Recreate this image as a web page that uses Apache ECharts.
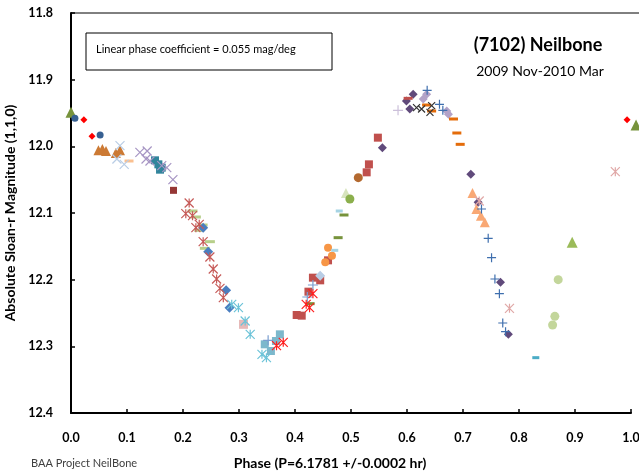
<!DOCTYPE html>
<html>
<head>
<meta charset="utf-8">
<script src="https://cdn.jsdelivr.net/npm/echarts@6/dist/echarts.min.js"></script>
<style>
  html, body { margin: 0; padding: 0; background: #fff; }
  #chart { width: 639px; height: 472px; }
</style>
</head>
<body>
<div id="chart"></div>
<script>
// [phase, magnitude], one array per marker style
var oliveTri = [[0.0, 11.949], [1.009, 11.968]];
var navyCircle = [[0.007, 11.958], [0.052, 11.983]];
var redDiamond = [[0.023, 11.960], [0.0375, 11.985], [0.993, 11.960]];
var tanTri = [[0.049, 12.006], [0.056, 12.004], [0.0625, 12.007], [0.080, 12.010], [0.0875, 12.006]];
var paleBlueX = [[0.0875, 11.999], [0.082, 12.019], [0.095, 12.027]];
var peachDash = [[0.1036, 12.022]];
var lavenderX = [[0.123, 12.009], [0.136, 12.007], [0.134, 12.019], [0.141, 12.022], [0.162, 12.029], [0.171, 12.032], [0.182, 12.050]];
var tealSquare = [[0.150, 12.021], [0.156, 12.027], [0.159, 12.035], [0.162, 12.032]];
var darkRedSquare = [[0.183, 12.066]];
var rosyAsterisk = [[0.211, 12.085], [0.205, 12.101], [0.217, 12.104], [0.229, 12.117], [0.223, 12.122], [0.236, 12.143],
  [0.248, 12.166], [0.254, 12.184], [0.260, 12.199], [0.266, 12.213], [0.272, 12.227]];
var lightGreenDash = [[0.217, 12.097], [0.223, 12.106], [0.235, 12.118], [0.229, 12.126], [0.248, 12.143], [0.239, 12.153]];
var blueDiamond = [[0.236, 12.122], [0.245, 12.158], [0.277, 12.216], [0.283, 12.242]];
var cyanAsterisk = [[0.287, 12.237], [0.299, 12.242], [0.311, 12.262], [0.320, 12.282], [0.341, 12.312], [0.349, 12.317]];
var pinkSquare = [[0.308, 12.267]];
var skySquare = [[0.346, 12.297], [0.357, 12.307], [0.366, 12.292], [0.373, 12.282]];
var palePlus = [[0.352, 12.291], [0.432, 12.208], [0.422, 12.226]];
var redAsterisk = [[0.367, 12.299], [0.379, 12.294], [0.432, 12.221], [0.420, 12.237], [0.426, 12.242]];
var redSquare = [[0.548, 11.987], [0.532, 12.027], [0.528, 12.039], [0.459, 12.171], [0.432, 12.197], [0.445, 12.201],
  [0.424, 12.218], [0.403, 12.253], [0.412, 12.254]];
var steelDiamond = [[0.445, 12.194]];
var orangeCircle = [[0.459, 12.152], [0.466, 12.164], [0.454, 12.174]];
var skyDash = [[0.471, 12.156], [0.479, 12.097]];
var oliveDash = [[0.4875, 12.103], [0.477, 12.137], [0.427, 12.236]];
var paleGreenTri = [[0.491, 12.070]];
var greenCircle = [[0.498, 12.079]];
var brownCircle = [[0.513, 12.047]];
var purpleDiamond = [[0.556, 12.002], [0.611, 11.922], [0.599, 11.932], [0.605, 11.944], [0.714, 12.042], [0.727, 12.084],
  [0.767, 12.204], [0.781, 12.282]];
var lilacDiamond = [[0.635, 11.922], [0.629, 11.929], [0.671, 11.947], [0.674, 11.952]];
var blackX = [[0.617, 11.942], [0.626, 11.944], [0.644, 11.939], [0.641, 11.949]];
var redDash = [[0.602, 11.928]];
var orangeDash = [[0.635, 11.938], [0.644, 11.947], [0.683, 11.959], [0.689, 11.980], [0.695, 11.997]];
var lilacPlus = [[0.584, 11.946]];
var bluePlus = [[0.636, 11.916], [0.658, 11.937], [0.664, 11.946], [0.733, 12.094], [0.745, 12.138], [0.751, 12.167],
  [0.757, 12.199], [0.765, 12.221], [0.771, 12.265], [0.776, 12.278]];
var peachTri = [[0.717, 12.070], [0.724, 12.094], [0.732, 12.104], [0.739, 12.114]];
var pinkAsterisk = [[0.972, 12.038], [0.783, 12.243], [0.729, 12.082]];
var paleGreenCircle = [[0.870, 12.200], [0.864, 12.255], [0.860, 12.268]];
var greenTri = [[0.895, 12.144]];
var tealDash = [[0.830, 12.317]];

var X_PATH = 'path://M0,0L10,10M10,0L0,10';
var PLUS_PATH = 'path://M0,5L10,5M5,0L5,10';
var STAR_PATH = 'path://M0,0L10,10M10,0L0,10M5,0L5,10';

function filled(data, symbol, size, color) {
  return {
    type: 'scatter', data: data, symbol: symbol, symbolSize: size, clip: false,
    itemStyle: { color: color, opacity: 1 }, z: 3
  };
}
function stroked(data, symbol, size, color) {
  return {
    type: 'scatter', data: data, symbol: symbol, symbolSize: size, clip: false,
    itemStyle: { color: 'rgba(0,0,0,0)', borderColor: color, borderWidth: 1.2, opacity: 1 }, z: 4
  };
}

var font = 'Lato, "Liberation Sans", sans-serif';
var chart = echarts.init(document.getElementById('chart'));

var option = {
  backgroundColor: '#fff',
  animation: false,
  grid: { left: 71, right: 8, top: 13, bottom: 59, containLabel: false, outerBoundsMode: 'none' },
  xAxis: {
    type: 'value', min: 0, max: 1, interval: 0.1,
    axisLine: { lineStyle: { color: '#000', width: 2 } },
    axisTick: { inside: true, length: 4, lineStyle: { color: '#000', width: 1.5 } },
    splitLine: { show: false },
    axisLabel: {
      margin: 18, color: '#000', fontWeight: 'bold', fontSize: 12.5, fontFamily: font,
      formatter: function (v) { return v.toFixed(1); }
    }
  },
  yAxis: {
    type: 'value', inverse: true, min: 11.8, max: 12.4, interval: 0.1,
    axisLine: { show: true, lineStyle: { color: '#000', width: 2 } },
    axisTick: { show: true, inside: true, length: 4, lineStyle: { color: '#000', width: 1.5 } },
    splitLine: { show: false },
    axisLabel: {
      margin: 18, color: '#000', fontWeight: 'bold', fontSize: 12.5, fontFamily: font,
      formatter: function (v) { return v.toFixed(1); }
    },
    name: 'Absolute Sloan-r Magnitude (1,1,0)',
    nameLocation: 'middle', nameGap: 47, nameRotate: 90,
    nameTextStyle: { color: '#000', fontWeight: 'bold', fontSize: 14, fontFamily: font }
  },
  graphic: [
    { type: 'line', shape: { x1: 71, y1: 13, x2: 639, y2: 13 }, style: { stroke: '#000', lineWidth: 1 } },
    { type: 'rect', shape: { x: 86, y: 33, width: 246, height: 37 }, style: { fill: '#fff', stroke: '#000', lineWidth: 1 } },
    { type: 'text', left: 96, top: 44, style: { text: 'Linear phase coefficient = 0.055 mag/deg', fontSize: 11, fontFamily: font, fill: '#000' } },
    { type: 'text', x: 538, y: 45, style: { text: '(7102) Neilbone', fontSize: 18, fontWeight: 'bold', fontFamily: font, fill: '#000', align: 'center', verticalAlign: 'middle' } },
    { type: 'text', x: 540, y: 71, style: { text: '2009 Nov-2010 Mar', fontSize: 14, fontFamily: font, fill: '#000', align: 'center', verticalAlign: 'middle' } },
    { type: 'text', x: 330, y: 463, style: { text: 'Phase (P=6.1781 +/-0.0002 hr)', fontSize: 14, fontWeight: 'bold', fontFamily: font, fill: '#000', align: 'center', verticalAlign: 'middle' } },
    { type: 'text', x: 31, y: 463, style: { text: 'BAA Project NeilBone', fontSize: 11, fontFamily: font, fill: '#404040', verticalAlign: 'middle' } }
  ],
  series: [
    filled(oliveTri, 'triangle', 11, '#77933C'),
    filled(navyCircle, 'circle', 7, '#376092'),
    filled(redDiamond, 'diamond', 7, '#FF0000'),
    filled(tanTri, 'triangle', 10, '#CC7A34'),
    stroked(paleBlueX, X_PATH, 9, '#B9CDE5'),
    filled(peachDash, 'rect', [9, 3], '#FAC090'),
    stroked(lavenderX, X_PATH, 9, '#A796C4'),
    filled(tealSquare, 'rect', 8, '#31859C'),
    filled(darkRedSquare, 'rect', 7, '#953735'),
    stroked(rosyAsterisk, STAR_PATH, 9, '#C65A58'),
    filled(lightGreenDash, 'rect', [10, 3], '#B7CF8A'),
    filled(blueDiamond, 'diamond', 10, '#4A7EC0'),
    stroked(cyanAsterisk, STAR_PATH, 9, '#6CC3D8'),
    filled(pinkSquare, 'rect', 9, '#E6B9B8'),
    filled(skySquare, 'rect', 8, '#7DB8CC'),
    stroked(palePlus, PLUS_PATH, 10, '#7B9ED0'),
    stroked(redAsterisk, STAR_PATH, 9, '#FF1E1E'),
    filled(redSquare, 'rect', 8, '#C0504D'),
    filled(steelDiamond, 'diamond', 10, '#B9CDE5'),
    filled(orangeCircle, 'circle', 8, '#F79646'),
    filled(skyDash, 'rect', [7, 3], '#A5D3E3'),
    filled(oliveDash, 'rect', [9, 3], '#77933C'),
    filled(paleGreenTri, 'triangle', 10, '#D7E4BD'),
    filled(greenCircle, 'circle', 9, '#8BAF4C'),
    filled(brownCircle, 'circle', 9, '#B3692F'),
    filled(purpleDiamond, 'diamond', 9, '#604A7B'),
    filled(lilacDiamond, 'diamond', 9, '#B3A2C7'),
    stroked(blackX, X_PATH, 7, '#333333'),
    filled(redDash, 'rect', [9, 3], '#C0504D'),
    filled(orangeDash, 'rect', [9, 3], '#E46C0A'),
    stroked(lilacPlus, PLUS_PATH, 10, '#CCC0DA'),
    stroked(bluePlus, PLUS_PATH, 9, '#3F6FAE'),
    filled(peachTri, 'triangle', 10, '#F9A874'),
    stroked(pinkAsterisk, STAR_PATH, 9, '#E0A8A7'),
    filled(paleGreenCircle, 'circle', 9, '#C3D69B'),
    filled(greenTri, 'triangle', 11, '#9BBB59'),
    filled(tealDash, 'rect', [7, 3], '#4BACC6')
  ]
};

chart.setOption(option);
</script>
</body>
</html>
